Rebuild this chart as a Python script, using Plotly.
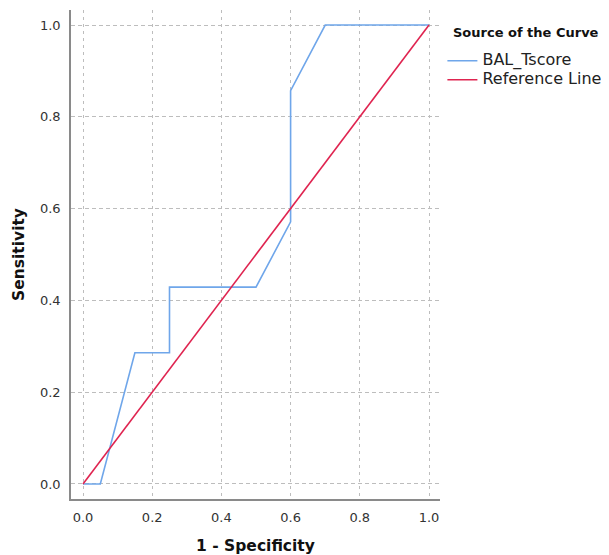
import plotly.graph_objects as go

# ROC curve data
roc_fpr = [0.0, 0.05, 0.15, 0.25, 0.25, 0.5, 0.6, 0.6, 0.7, 1.0]
roc_tpr = [0.0, 0.0, 0.286, 0.286, 0.429, 0.429, 0.571, 0.857, 1.0, 1.0]
ref_x = [0.0, 1.0]
ref_y = [0.0, 1.0]
tick_vals = [0.0, 0.2, 0.4, 0.6, 0.8, 1.0]
tick_text = ["0.0", "0.2", "0.4", "0.6", "0.8", "1.0"]
series_names = ["BAL_Tscore", "Reference Line"]

FONT = "DejaVu Sans"


def legend_name(s):
    return '<span style="font-size:16px">' + s + '</span>'


fig = go.Figure()
fig.add_trace(go.Scatter(x=roc_fpr, y=roc_tpr, mode="lines", name=legend_name(series_names[0]),
                         line=dict(color="#6fa6ea", width=1.6)))
fig.add_trace(go.Scatter(x=ref_x, y=ref_y, mode="lines", name=legend_name(series_names[1]),
                         line=dict(color="#df2450", width=1.6)))

axis_common = dict(
    tickvals=tick_vals, ticktext=tick_text,
    showgrid=True, gridcolor="#bdbdbd", gridwidth=1,
    zeroline=False, showline=True, linecolor="#8a8a8a", linewidth=1.5,
    ticks="", tickfont=dict(family=FONT, size=13, color="#333333"),
    automargin=False,
)

fig.update_layout(
    width=601, height=547,
    margin=dict(l=63, r=169, t=2, b=56),
    plot_bgcolor="white", paper_bgcolor="white",
    font=dict(family=FONT, color="#222222"),
    xaxis=dict(range=[-0.0347, 1.0318], ticklabelstandoff=6, griddash="3px,4px",
               title=dict(text="<b>1 - Specificity</b>", font=dict(family=FONT, size=15.5, color="#111111"),
                          standoff=20),
               **axis_common),
    yaxis=dict(range=[-0.0327, 1.0327], ticklabelstandoff=6, griddash="4px,3px",
               title=dict(text="<b>Sensitivity</b>", font=dict(family=FONT, size=15.5, color="#111111"),
                          standoff=12),
               **axis_common),
    legend=dict(
        x=1.0065, y=0.926, xanchor="left", yanchor="top",
        font=dict(family=FONT, size=12, color="#222222"),
        tracegroupgap=0, itemwidth=30,
        bgcolor="rgba(0,0,0,0)",
    ),
    showlegend=True,
    annotations=[dict(
        text="<b>Source of the Curve</b>", xref="paper", yref="paper",
        x=1.03, y=0.953, xanchor="left", yanchor="middle", showarrow=False,
        font=dict(family=FONT, size=13, color="#111111"),
    )],
)

fig.write_html("out.html")
